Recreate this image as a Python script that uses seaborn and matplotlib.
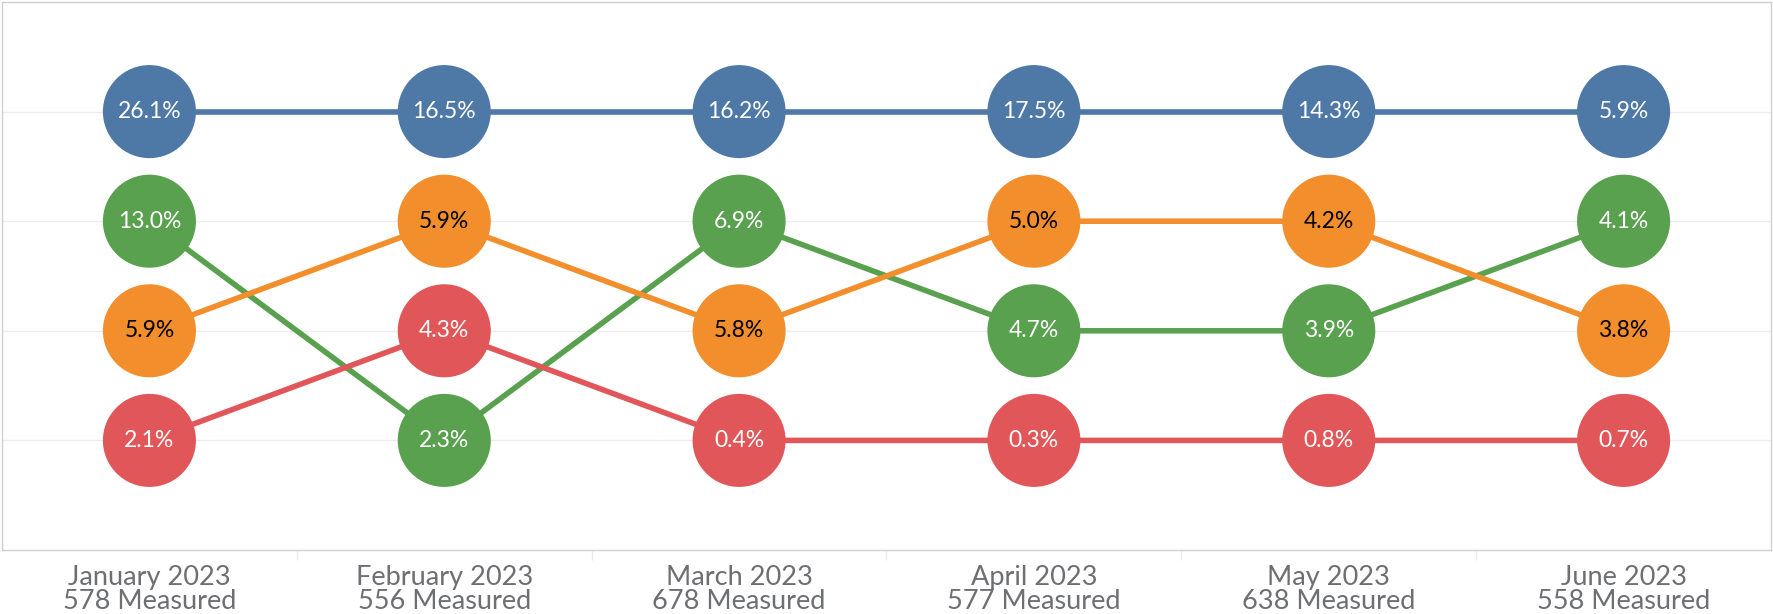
import matplotlib
matplotlib.use("Agg")
import matplotlib.pyplot as plt
import seaborn as sns
import pandas as pd
import numpy as np

months = ["January 2023", "February 2023", "March 2023", "April 2023", "May 2023", "June 2023"]
measured = [578, 556, 678, 577, 638, 558]
series_names = ["Blue", "Green", "Orange", "Red"]
blue_vals = [26.1, 16.5, 16.2, 17.5, 14.3, 5.9]
green_vals = [13.0, 2.3, 6.9, 4.7, 3.9, 4.1]
orange_vals = [5.9, 5.9, 5.8, 5.0, 4.2, 3.8]
red_vals = [2.1, 4.3, 0.4, 0.3, 0.8, 0.7]

palette = {"Blue": "#4e79a7", "Green": "#59a14f", "Orange": "#f28e2b", "Red": "#e15759"}
text_colors = {"Blue": "white", "Green": "white", "Orange": "black", "Red": "white"}

rows = []
for name, vals in zip(series_names, [blue_vals, green_vals, orange_vals, red_vals]):
    for i, v in enumerate(vals):
        rows.append({"series": name, "month_idx": i, "value": v})
df = pd.DataFrame(rows)
df["rank"] = df.groupby("month_idx")["value"].rank(ascending=False, method="first")

sns.set_theme(style="white")
plt.rcParams["font.family"] = ["Lato", "DejaVu Sans"]

W, H = 1773, 614
fig = plt.figure(figsize=(W / 100, H / 100), dpi=100)
ax = fig.add_axes([2 / W, (H - 550) / H, 1769 / W, 548 / H])

for r in range(1, 5):
    ax.axhline(r, color="#ececec", linewidth=1, zorder=0)

sns.lineplot(data=df, x="month_idx", y="rank", hue="series", palette=palette,
             linewidth=4.0, legend=False, ax=ax, zorder=2, estimator=None, sort=True)
sns.scatterplot(data=df, x="month_idx", y="rank", hue="series", palette=palette,
                s=4489, linewidth=0, legend=False, ax=ax, zorder=3)

for _, row in df.iterrows():
    ax.text(row["month_idx"], row["rank"], f"{row['value']:.1f}%", ha="center", va="center",
            color=text_colors[row["series"]], fontsize=16.5, zorder=4)

ax.set_xlim(-0.5, 5.5)
ax.set_ylim(5.0, 0.0)
ax.set_yticks([])
ax.set_xticks(range(len(months)))
ax.set_xticklabels([f"{m}\n{n} Measured" for m, n in zip(months, measured)],
                   color="#6e6f73", fontsize=19.5, linespacing=0.92)
ax.set_xticks(np.arange(0.5, 5.5, 1), minor=True)
ax.tick_params(axis="x", which="major", length=0, pad=11)
ax.tick_params(axis="x", which="minor", length=7, color="#ececec", width=1, bottom=True)
ax.set_xlabel("")
ax.set_ylabel("")
for s in ax.spines.values():
    s.set_color("#d0d0d0")
    s.set_linewidth(1)

fig.savefig("out.png", dpi=100)
